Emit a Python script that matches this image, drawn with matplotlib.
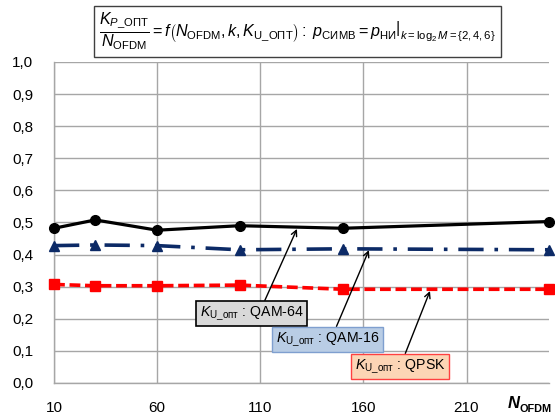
import matplotlib
matplotlib.use("Agg")
import matplotlib.pyplot as plt
from matplotlib.ticker import FuncFormatter

plt.rcParams['font.family'] = ['Liberation Sans', 'DejaVu Sans']
plt.rcParams['mathtext.fontset'] = 'custom'
plt.rcParams['mathtext.rm'] = 'Liberation Sans'
plt.rcParams['mathtext.it'] = 'Liberation Sans:italic'
plt.rcParams['mathtext.bf'] = 'Liberation Sans:bold'

# Data
n_ofdm = [10, 30, 60, 100, 150, 250]
qam64 = [0.482, 0.508, 0.476, 0.490, 0.482, 0.503]
qam16 = [0.428, 0.430, 0.428, 0.415, 0.418, 0.415]
qpsk = [0.307, 0.303, 0.303, 0.305, 0.292, 0.292]
x_ticks = [10, 60, 110, 160, 210]
y_ticks = [0.0, 0.1, 0.2, 0.3, 0.4, 0.5, 0.6, 0.7, 0.8, 0.9, 1.0]

W, H = 555, 416
fig = plt.figure(figsize=(W / 100, H / 100), dpi=100)
ax = fig.add_axes([54 / W, 1 - 383 / H, (549 - 54) / W, (383 - 62) / H])

ax.plot(n_ofdm, qam64, color='black', lw=2.3, marker='o', ms=7, clip_on=False, zorder=5)
ax.plot(n_ofdm, qam16, color='#0c2a66', lw=2.6, marker='^', ms=7.5, clip_on=False, zorder=5,
        dashes=(7, 3, 1, 3), dash_capstyle='butt')
ax.plot(n_ofdm, qpsk, color='#ff0000', lw=2.6, marker='s', ms=6.5, clip_on=False, zorder=5,
        dashes=(3, 1.3), dash_capstyle='butt')

ax.set_xlim(10, 250)
ax.set_ylim(0, 1.0)
ax.set_xticks(x_ticks)
ax.set_yticks(y_ticks)
ax.yaxis.set_major_formatter(FuncFormatter(lambda v, p: f"{v:.1f}".replace('.', ',')))
ax.tick_params(axis='both', length=0, labelsize=11, colors='black')
ax.tick_params(axis='y', pad=15)
ax.tick_params(axis='x', pad=13)
ax.grid(True, color='#a6a6a6', lw=1)
ax.set_axisbelow(True)
for s in ['top', 'right']:
    ax.spines[s].set_visible(False)
for s in ['left', 'bottom']:
    ax.spines[s].set_color('#a6a6a6')
    ax.spines[s].set_linewidth(1)

# Annotations
arrow = dict(arrowstyle='->', color='black', lw=1, shrinkA=0, shrinkB=0)
ax.annotate(r"$K_{\mathrm{U\_опт}}$ : QAM-64", xy=(127.8, 0.48), xytext=(105.8, 0.2165),
            ha='center', va='center', fontsize=10.2,
            bbox=dict(boxstyle='square,pad=0.25', fc='#d9d9d9', ec='black', lw=1.2),
            arrowprops=dict(arrow, relpos=(0.61, 1.0)), zorder=6)
ax.annotate(r"$K_{\mathrm{U\_опт}}$ : QAM-16", xy=(162.7, 0.414), xytext=(142.6, 0.1355),
            ha='center', va='center', fontsize=10.2,
            bbox=dict(boxstyle='square,pad=0.25', fc='#b9cde5', ec='#7f9fcf', lw=1),
            arrowprops=dict(arrow, relpos=(0.57, 1.0)), zorder=6)
ax.annotate(r"$K_{\mathrm{U\_опт}}$ : QPSK", xy=(192.3, 0.2866), xytext=(177.8, 0.0514),
            ha='center', va='center', fontsize=10.2,
            bbox=dict(boxstyle='square,pad=0.25', fc='#fcd5b5', ec='#ff4040', lw=1),
            arrowprops=dict(arrow, relpos=(0.54, 1.0)), zorder=6)

# Axis title
fig.text(520 / W, 1 - 408 / H, "N", fontsize=12, fontweight='bold', style='italic',
         ha='right', va='baseline')
fig.text(520 / W, 1 - 412 / H, "OFDM", fontsize=7.8, fontweight='bold', ha='left', va='baseline')

# Formula title
formula = (r"$\dfrac{K_{P\_\mathrm{ОПТ}}}{N_{\mathrm{OFDM}}} = f\left(N_{\mathrm{OFDM}}, k, K_{\mathrm{U\_ОПТ}}\right)"
           r":\ p_{\mathrm{СИМВ}} = p_{\mathrm{НИ}}\left.\right|_{k=\log_2 M=\{2,4,6\}}$")
fig.text(297.5 / W, 1 - 31.5 / H, formula, fontsize=11.6, ha='center', va='center',
         bbox=dict(boxstyle='square,pad=0.3', fc='white', ec='#404040', lw=1))

fig.savefig('out.png', dpi=100)
